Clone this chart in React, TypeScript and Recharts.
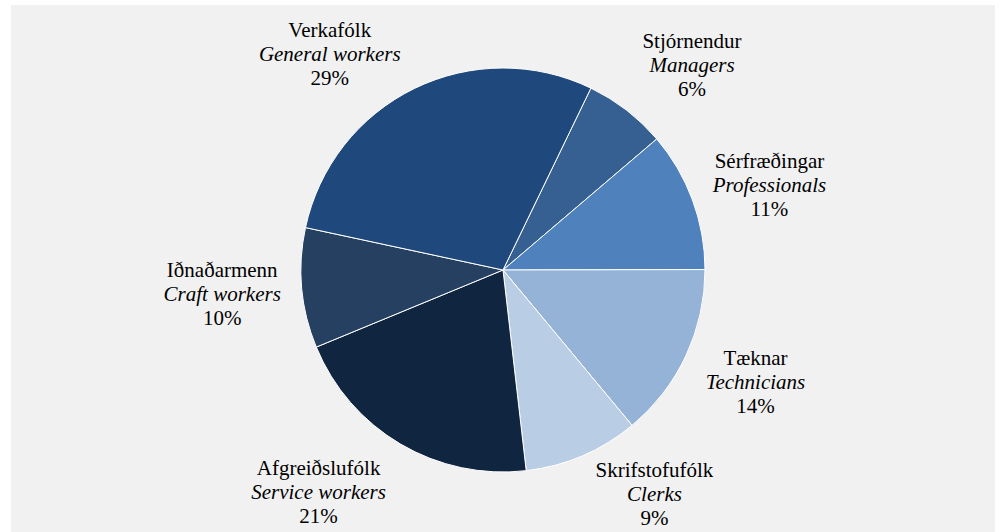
import { Cell, Pie, PieChart } from "recharts";

// Occupational split; slices run clockwise from Stjórnendur.
const names = ["Stjórnendur", "Sérfræðingar", "Tæknar", "Skrifstofufólk", "Afgreiðslufólk", "Iðnaðarmenn", "Verkafólk"];
const english = ["Managers", "Professionals", "Technicians", "Clerks", "Service workers", "Craft workers", "General workers"];
const shares = [6.6, 11.2, 14.0, 9.2, 20.6, 9.6, 28.8];
const shareLabels = ["6%", "11%", "14%", "9%", "21%", "10%", "29%"];
const colors = ["#376092", "#4F81BD", "#95B3D7", "#B9CDE5", "#10253F", "#254061", "#1F497D"];

// Excel shuffles outside labels a little to keep them apart; vertical nudges (px).
const labelNudge = [-10, 0, 8, -2, 10, 2, 5];

const data = names.map((name, i) => ({ name, value: shares[i] }));

const FONT = "Liberation Serif, DejaVu Serif, serif";
const FONT_SIZE = 21;
const LINE = 24;

let ctx: CanvasRenderingContext2D | null = null;
function textWidth(s: string, italic = false) {
  if (!ctx) ctx = document.createElement("canvas").getContext("2d");
  if (!ctx) return s.length * 9;
  ctx.font = `${italic ? "italic " : ""}${FONT_SIZE}px ${FONT}`;
  return ctx.measureText(s).width;
}

// Outside labels: the text box hugs the slice edge at its middle angle.
function renderLabel(props: any) {
  const { cx, cy, midAngle, outerRadius, index } = props;
  const rad = (-midAngle * Math.PI) / 180;
  const px = cx + outerRadius * Math.cos(rad);
  const py = cy + outerRadius * Math.sin(rad);
  const w = Math.max(
    textWidth(names[index]),
    textWidth(english[index], true),
    textWidth(shareLabels[index]),
  );
  const side = Math.cos(rad) >= 0 ? 1 : -1;
  const gap = 8 + 13 * Math.abs(Math.cos(rad));
  const x = px + side * (w / 2 + gap);
  const y = py + Math.sin(rad) * 44 + labelNudge[index];
  const common = {
    x,
    textAnchor: "middle" as const,
    dominantBaseline: "central" as const,
    fontFamily: FONT,
    fontSize: FONT_SIZE,
    fill: "#000",
  };
  return (
    <g key={`lbl-${index}`}>
      <text {...common} y={y - LINE}>{names[index]}</text>
      <text {...common} y={y} fontStyle="italic">{english[index]}</text>
      <text {...common} y={y + LINE}>{shareLabels[index]}</text>
    </g>
  );
}

export default function App() {
  return (
    <div style={{ position: "absolute", left: 0, top: 0, width: 1000, height: 532, background: "#fff" }}>
      <div style={{ position: "absolute", left: 11, top: 5, width: 984, height: 527, background: "#F1F1F1" }} />
      <div style={{ position: "absolute", left: 0, top: 0, fontFamily: FONT }}>
        <PieChart width={1000} height={532} margin={{ top: 0, right: 0, bottom: 0, left: 0 }}>
          <Pie
            data={data}
            dataKey="value"
            nameKey="name"
            cx={503}
            cy={270}
            outerRadius={202}
            startAngle={64.2}
            endAngle={-295.8}
            stroke="#fff"
            strokeWidth={1}
            label={renderLabel}
            labelLine={false}
            isAnimationActive={false}
          >
            {data.map((d, i) => (
              <Cell key={d.name} fill={colors[i]} />
            ))}
          </Pie>
        </PieChart>
      </div>
    </div>
  );
}
